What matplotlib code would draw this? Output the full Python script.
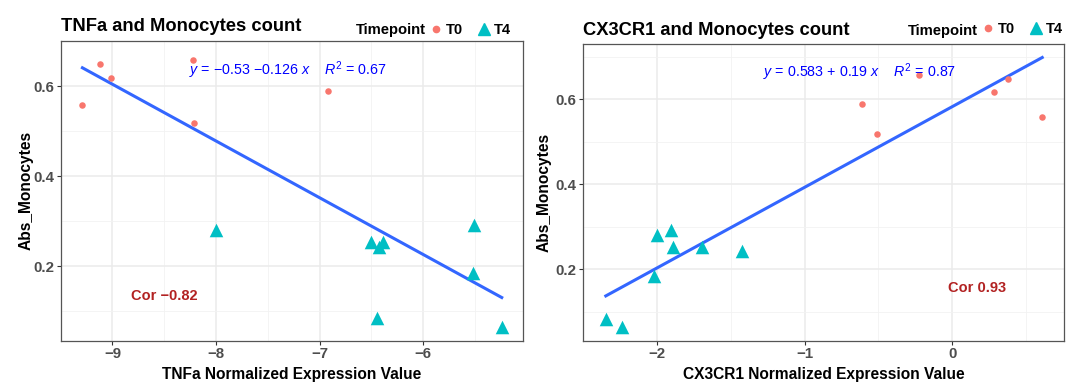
import matplotlib
matplotlib.use('Agg')
import matplotlib.pyplot as plt
from matplotlib.lines import Line2D
import numpy as np

plt.rcParams['font.family'] = ['Liberation Sans', 'DejaVu Sans']
plt.rcParams['mathtext.fontset'] = 'custom'
plt.rcParams['mathtext.it'] = 'Liberation Sans:italic'
plt.rcParams['mathtext.rm'] = 'Liberation Sans'

# samples, same monocyte counts in both panels
timepoint = ['T0'] * 6 + ['T4'] * 8
abs_monocytes = [0.558, 0.648, 0.618, 0.658, 0.518, 0.588,
                 0.280, 0.292, 0.253, 0.253, 0.243, 0.185, 0.084, 0.064]
tnfa_expr = [-9.29, -9.12, -9.01, -8.22, -8.21, -6.92,
             -8.00, -5.51, -6.50, -6.39, -6.43, -5.52, -6.44, -5.24]
cx3cr1_expr = [0.608, 0.375, 0.281, -0.225, -0.509, -0.612,
               -2.000, -1.905, -1.890, -1.694, -1.426, -2.018, -2.344, -2.234]

# regression results printed on the chart
tnfa_fit = (-0.53, -0.126)
cx3cr1_fit = (0.583, 0.19)
tnfa_eq = r'$y$ = −0.53 −0.126 $x$    $R^2$ = 0.67'
cx3cr1_eq = r'$y$ = 0.583 + 0.19 $x$    $R^2$ = 0.87'
tnfa_cor = 'Cor −0.82'
cx3cr1_cor = 'Cor 0.93'

colors = {'T0': '#F8766D', 'T4': '#00BFC4'}
markers = {'T0': 'o', 'T4': '^'}
sizes = {'T0': 22, 'T4': 95}

panels = [
    dict(rect=[0.0566, 0.1104, 0.431, 0.7825], x=tnfa_expr, fit=tnfa_fit,
         title='TNFa and Monocytes count', xlabel='TNFa Normalized Expression Value',
         xmajor=[-9, -8, -7, -6], xminor=[-9.5, -8.5, -7.5, -6.5, -5.5],
         eq=tnfa_eq, eq_pos=(-8.26, 0.635), cor=tnfa_cor, cor_pos=(-8.5, 0.134),
         ylab_x=-0.058, title_y=1.033, tp_y=1.022, leg_x=0.975, leg_y=1.037),
    dict(rect=[0.5436, 0.1104, 0.449, 0.7747], x=cx3cr1_expr, fit=cx3cr1_fit,
         title='CX3CR1 and Monocytes count', xlabel='CX3CR1 Normalized Expression Value',
         xmajor=[-2, -1, 0], xminor=[-2.5, -1.5, -0.5, 0.5],
         eq=cx3cr1_eq, eq_pos=(-1.28, 0.664), cor=cx3cr1_cor, cor_pos=(0.17, 0.156),
         ylab_x=-0.064, title_y=1.032, tp_y=1.032, leg_x=0.998, leg_y=1.05),
]

fig = plt.figure(figsize=(10.72, 3.83), dpi=100)

for p in panels:
    ax = fig.add_axes(p['rect'])
    x = np.array(p['x'])
    y = np.array(abs_monocytes)
    tp = np.array(timepoint)

    for t in ['T0', 'T4']:
        m = tp == t
        ax.scatter(x[m], y[m], c=colors[t], marker=markers[t], s=sizes[t],
                   linewidths=0, zorder=3)

    # regression line over the data range
    xs = np.array([x.min(), x.max()])
    ys = p['fit'][0] + p['fit'][1] * xs
    ax.plot(xs, ys, color='#3366FF', lw=2.2, zorder=2)

    # ggplot-like 5% expansion
    xr = x.max() - x.min()
    ax.set_xlim(x.min() - 0.05 * xr, x.max() + 0.05 * xr)
    ally = np.concatenate([y, ys])
    yr = ally.max() - ally.min()
    ax.set_ylim(ally.min() - 0.05 * yr, ally.max() + 0.05 * yr)

    ax.set_xticks(p['xmajor'])
    ax.set_xticks(p['xminor'], minor=True)
    ax.set_yticks([0.2, 0.4, 0.6])
    ax.set_yticks([0.1, 0.3, 0.5, 0.7], minor=True)
    ax.grid(which='major', color='#EBEBEB', lw=1.1)
    ax.grid(which='minor', color='#F2F2F2', lw=0.6)
    ax.set_axisbelow(True)

    for s in ax.spines.values():
        s.set_color('#555555')
        s.set_linewidth(0.9)
    ax.tick_params(which='major', length=3, width=0.8, color='#333333',
                   labelsize=10.8, labelcolor='#4D4D4D', pad=1.5)
    ax.tick_params(which='minor', length=0)
    for lbl in ax.get_xticklabels() + ax.get_yticklabels():
        lbl.set_fontweight('bold')

    ax.set_xlabel(p['xlabel'], fontsize=11.2, fontweight='bold')
    ax.set_ylabel('Abs_Monocytes', fontsize=11.2, fontweight='bold')
    ax.xaxis.set_label_coords(0.5, -0.088)
    ax.yaxis.set_label_coords(p['ylab_x'], 0.5)

    ax.text(0.0, p['title_y'], p['title'], transform=ax.transAxes, fontsize=13.2,
            fontweight='bold', va='baseline', ha='left')

    ax.text(p['eq_pos'][0], p['eq_pos'][1], p['eq'], color='#0000FF',
            fontsize=10.3, va='center', ha='left')
    ax.text(p['cor_pos'][0], p['cor_pos'][1], p['cor'], color='#B22222',
            fontsize=10.5, fontweight='bold', va='center', ha='center')

    # legend across the top right
    handles = [Line2D([], [], ls='none', marker=markers[t], color=colors[t],
                      markersize=4.5 if t == 'T0' else 9) for t in ['T0', 'T4']]
    leg = ax.legend(handles, ['T0', 'T4'], ncol=2, frameon=False,
                    loc='center right', bbox_to_anchor=(p['leg_x'], p['leg_y']),
                    borderpad=0, borderaxespad=0, handlelength=0.8,
                    handletextpad=0.3, columnspacing=1.0,
                    prop={'weight': 'bold', 'size': 10.6})
    fig.canvas.draw()
    bb = leg.get_window_extent().transformed(ax.transAxes.inverted())
    ax.text(bb.x0 - 0.008, p['tp_y'], 'Timepoint', transform=ax.transAxes,
            fontsize=10.6, fontweight='bold', va='baseline', ha='right')

fig.savefig('out.png', dpi=100)
